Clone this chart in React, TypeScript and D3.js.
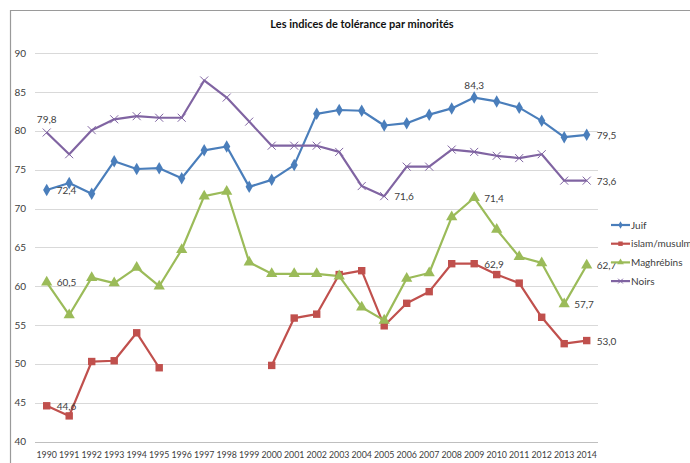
import React, { useEffect, useRef } from 'react';
import * as d3 from 'd3';

const years = ['1990', '1991', '1992', '1993', '1994', '1995', '1996', '1997', '1998', '1999', '2000', '2001', '2002', '2003', '2004', '2005', '2006', '2007', '2008', '2009', '2010', '2011', '2012', '2013', '2014'];

const juif = [72.4, 73.3, 71.9, 76.1, 75.1, 75.2, 73.9, 77.5, 78.0, 72.8, 73.7, 75.6, 82.2, 82.7, 82.6, 80.7, 81.0, 82.1, 82.9, 84.3, 83.8, 83.0, 81.3, 79.2, 79.5];
const islam = [44.6, 43.3, 50.3, 50.4, 54.0, 49.5, null, null, null, null, 49.8, 55.9, 56.4, 61.5, 62.0, 54.9, 57.8, 59.3, 62.9, 62.9, 61.5, 60.4, 56.0, 52.6, 53.0];
const maghrebins = [60.5, 56.3, 61.1, 60.4, 62.4, 60.0, 64.7, 71.6, 72.2, 63.1, 61.6, 61.6, 61.6, 61.3, 57.3, 55.6, 61.0, 61.7, 68.9, 71.4, 67.3, 63.8, 63.0, 57.7, 62.7];
const noirs = [79.8, 77.0, 80.1, 81.5, 81.9, 81.7, 81.7, 86.5, 84.3, 81.2, 78.1, 78.1, 78.1, 77.3, 72.9, 71.6, 75.4, 75.4, 77.6, 77.3, 76.8, 76.5, 77.0, 73.6, 73.6];

const yTicks = [40, 45, 50, 55, 60, 65, 70, 75, 80, 85, 90];

// labelled points: [series index, year index, position]
const labelled: [number, number, string][] = [
  [0, 0, 'right'], [0, 19, 'above'], [0, 24, 'right'],
  [1, 0, 'right'], [1, 19, 'right'], [1, 24, 'right'],
  [2, 0, 'right'], [2, 19, 'right'], [2, 23, 'right'], [2, 24, 'right'],
  [3, 0, 'above'], [3, 15, 'right'], [3, 24, 'right'],
];

const series = [
  { name: 'Juif', values: juif, color: '#4A7EBB', marker: 'diamond' },
  { name: 'islam/musulmans', values: islam, color: '#C0504D', marker: 'square' },
  { name: 'Maghrébins', values: maghrebins, color: '#9BBB59', marker: 'triangle' },
  { name: 'Noirs', values: noirs, color: '#8064A2', marker: 'x' },
];

const W = 690, H = 463;
const FONT = 'Lato, "Open Sans", sans-serif';

function drawMarker(g: any, kind: string, color: string, cx: number, cy: number, small = false) {
  const k = small ? 0.6 : 1;
  if (kind === 'x') {
    const r = 4 * k;
    g.append('path')
      .attr('d', `M${cx - r},${cy - r}L${cx + r},${cy + r}M${cx - r},${cy + r}L${cx + r},${cy - r}`)
      .attr('stroke', color).attr('stroke-width', 1).attr('fill', 'none');
    return;
  }
  const type = kind === 'diamond' ? d3.symbolDiamond : kind === 'square' ? d3.symbolSquare : d3.symbolTriangle;
  const size = (kind === 'diamond' ? 45 : 55) * k * k;
  g.append('path')
    .attr('d', d3.symbol().type(type).size(size)())
    .attr('transform', `translate(${cx},${cy})`)
    .attr('fill', color);
}

export default function App() {
  const ref = useRef<SVGSVGElement>(null);

  useEffect(() => {
    const svg = d3.select(ref.current);
    svg.selectAll('*').remove();

    const x = d3.scalePoint().domain(years).range([46.7, 586.7]);
    const y = d3.scaleLinear().domain([40, 90]).range([441.5, 53.3]);

    // outer frame
    svg.append('path')
      .attr('d', `M10.5,${H}V10.5H${W}`)
      .attr('stroke', '#9a9a9a').attr('stroke-width', 1.2).attr('fill', 'none');

    // title
    svg.append('text')
      .attr('x', 362).attr('y', 28)
      .attr('text-anchor', 'middle')
      .style('font-family', FONT).style('font-size', '11px').style('font-weight', 'bold')
      .attr('fill', '#111')
      .text('Les indices de tolérance par minorités');

    // gridlines
    svg.append('g').selectAll('line')
      .data(yTicks)
      .enter().append('line')
      .attr('x1', 35).attr('x2', 598)
      .attr('y1', d => Math.round(y(d)) + 0.5).attr('y2', d => Math.round(y(d)) + 0.5)
      .attr('stroke', d => d === 40 ? '#bfbfbf' : '#d9d9d9').attr('stroke-width', 1);

    // y axis labels
    svg.append('g').selectAll('text')
      .data(yTicks)
      .enter().append('text')
      .attr('x', 26).attr('y', d => y(d) + 3.5)
      .attr('text-anchor', 'end')
      .style('font-family', FONT).style('font-size', '10px')
      .attr('fill', '#404040')
      .text(d => d);

    // x axis labels
    svg.append('g').selectAll('text')
      .data(years)
      .enter().append('text')
      .attr('x', d => x(d) as number).attr('y', 458)
      .attr('text-anchor', 'middle')
      .style('font-family', FONT).style('font-size', '8.8px')
      .attr('fill', '#404040')
      .text(d => d);

    // lines
    series.forEach(s => {
      const line = d3.line<number | null>()
        .defined(d => d !== null)
        .x((d, i) => x(years[i]) as number)
        .y(d => y(d as number));
      svg.append('path')
        .datum(s.values)
        .attr('d', line)
        .attr('fill', 'none')
        .attr('stroke', s.color)
        .attr('stroke-width', 2.2)
        .attr('stroke-linejoin', 'round');
    });

    // markers
    series.forEach(s => {
      const g = svg.append('g');
      s.values.forEach((v, i) => {
        if (v === null) return;
        drawMarker(g, s.marker, s.color, x(years[i]) as number, y(v));
      });
    });

    // data labels
    labelled.forEach(([si, yi, pos]) => {
      const v = series[si].values[yi] as number;
      const px = x(years[yi]) as number;
      const py = y(v);
      svg.append('text')
        .attr('x', pos === 'right' ? px + 10 : px)
        .attr('y', pos === 'right' ? py + 4 : py - 9)
        .attr('text-anchor', pos === 'right' ? 'start' : 'middle')
        .style('font-family', FONT).style('font-size', '10px')
        .attr('fill', '#404040')
        .text(v.toFixed(1).replace('.', ','));
    });

    // legend
    series.forEach((s, i) => {
      const ly = 225 + i * 18.7;
      const g = svg.append('g');
      g.append('line')
        .attr('x1', 611).attr('x2', 630).attr('y1', ly).attr('y2', ly)
        .attr('stroke', s.color).attr('stroke-width', 2.2);
      drawMarker(g, s.marker, s.color, 620.5, ly, true);
      g.append('text')
        .attr('x', 631).attr('y', ly + 3.5)
        .style('font-family', FONT).style('font-size', '10px')
        .attr('fill', '#404040')
        .text(s.name);
    });
  }, []);

  return (
    <svg ref={ref} width={W} height={H} style={{ position: 'absolute', left: 0, top: 0, background: '#fff' }} />
  );
}
